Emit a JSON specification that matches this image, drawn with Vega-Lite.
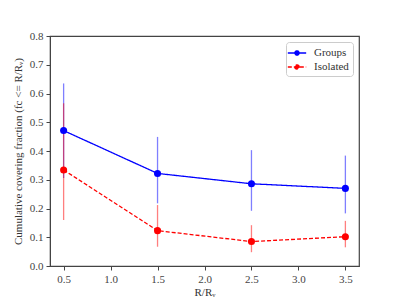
{
  "$schema": "https://vega.github.io/schema/vega-lite/v6.json",
  "autosize": "none",
  "width": 309,
  "height": 230,
  "padding": {"left": 50, "top": 36, "right": 40, "bottom": 33},
  "background": "white",
  "config": {
    "font": "Liberation Serif",
    "view": {"stroke": "#444", "strokeWidth": 1.2},
    "axis": {
      "labelFont": "Liberation Serif",
      "titleFont": "Liberation Serif",
      "labelFontSize": 11,
      "titleFontSize": 11,
      "titleFontWeight": "normal",
      "labelColor": "#444",
      "titleColor": "#333",
      "domainColor": "#444",
      "tickColor": "#444",
      "tickSize": 4,
      "grid": false,
      "labelPadding": 3,
      "labelOverlap": false
    },
    "legend": {
      "labelFont": "Liberation Serif",
      "labelFontSize": 11,
      "labelColor": "#333"
    }
  },
  "data": {
    "values": [
      {"r": 0.5, "group": "Groups", "f": 0.471, "lo": 0.306, "hi": 0.635},
      {"r": 1.5, "group": "Groups", "f": 0.322, "lo": 0.218, "hi": 0.449},
      {"r": 2.5, "group": "Groups", "f": 0.286, "lo": 0.192, "hi": 0.403},
      {"r": 3.5, "group": "Groups", "f": 0.270, "lo": 0.183, "hi": 0.384},
      {"r": 0.5, "group": "Isolated", "f": 0.334, "lo": 0.160, "hi": 0.566},
      {"r": 1.5, "group": "Isolated", "f": 0.123, "lo": 0.067, "hi": 0.212},
      {"r": 2.5, "group": "Isolated", "f": 0.085, "lo": 0.048, "hi": 0.142},
      {"r": 3.5, "group": "Isolated", "f": 0.102, "lo": 0.065, "hi": 0.157}
    ]
  },
  "encoding": {
    "x": {
      "field": "r", "type": "quantitative",
      "scale": {"domain": [0.355, 3.645], "nice": false, "zero": false},
      "axis": {"values": [0.5, 1.0, 1.5, 2.0, 2.5, 3.0, 3.5], "format": ".1f", "title": "R/Rᵥ", "titlePadding": 2}
    },
    "y": {
      "field": "f", "type": "quantitative",
      "scale": {"domain": [0, 0.8], "nice": false},
      "axis": {"values": [0, 0.1, 0.2, 0.3, 0.4, 0.5, 0.6, 0.7, 0.8], "tickCount": 9, "format": ".1f", "title": "Cumulative covering fraction (fc <= R/Rᵥ)", "titlePadding": 6}
    },
    "color": {
      "field": "group", "type": "nominal",
      "scale": {"domain": ["Groups", "Isolated"], "range": ["#0000ff", "#ff0000"]},
      "legend": {
        "title": null,
        "orient": "top-right",
        "offset": 6,
        "fillColor": "white",
        "strokeColor": "#cccccc",
        "cornerRadius": 3,
        "padding": 4,
        "rowPadding": 2,
        "symbolType": "M-1.5,0H1.5M0,-0.35A0.35,0.35 0 1,1 0,0.35A0.35,0.35 0 1,1 0,-0.35Z",
        "symbolSize": 150,
        "symbolStrokeWidth": 1.3,
        "symbolOpacity": 1,
        "labelOffset": 10,
        "labelFont": "Liberation Serif",
        "labelFontSize": 11,
        "labelColor": "#333"
      }
    }
  },
  "layer": [
    {
      "mark": {"type": "rule", "opacity": 0.5, "strokeWidth": 1.3},
      "encoding": {
        "y": {"field": "lo", "type": "quantitative", "axis": {"values": [0, 0.1, 0.2, 0.3, 0.4, 0.5, 0.6, 0.7, 0.8], "tickCount": 9, "format": ".1f", "title": "Cumulative covering fraction (fc <= R/Rᵥ)", "titlePadding": 6}},
        "y2": {"field": "hi"}
      }
    },
    {
      "mark": {"type": "line", "strokeWidth": 1.3},
      "encoding": {
        "strokeDash": {
          "field": "group", "type": "nominal",
          "scale": {"domain": ["Groups", "Isolated"], "range": [[1, 0], [4, 2]]},
          "legend": {
            "title": null,
            "orient": "top-right",
            "offset": 6,
            "fillColor": "white",
            "strokeColor": "#cccccc",
            "cornerRadius": 3,
            "padding": 4,
            "rowPadding": 2,
            "symbolType": "M-1.5,0H1.5M0,-0.35A0.35,0.35 0 1,1 0,0.35A0.35,0.35 0 1,1 0,-0.35Z",
            "symbolSize": 150,
            "symbolStrokeWidth": 1.3,
            "symbolOpacity": 1,
            "labelOffset": 10,
            "labelFont": "Liberation Serif",
            "labelFontSize": 11,
            "labelColor": "#333"
          }
        }
      }
    },
    {
      "mark": {"type": "point", "filled": true, "opacity": 1, "size": 50}
    }
  ]
}
